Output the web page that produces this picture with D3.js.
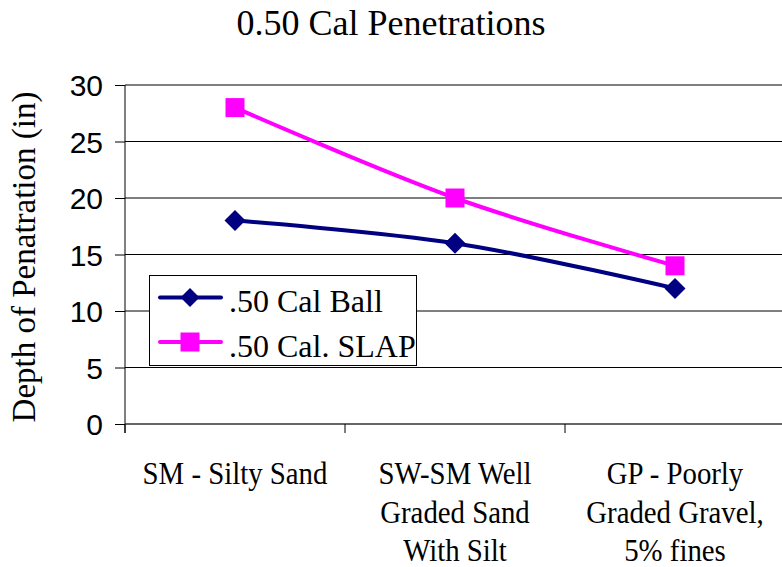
<!DOCTYPE html>
<html>
<head>
<meta charset="utf-8">
<script src="https://cdn.jsdelivr.net/npm/d3@7"></script>
<style>
  html, body { margin: 0; padding: 0; background: #fff; }
  svg { display: block; }
  .serif { font-family: "Liberation Serif", "Times New Roman", Times, "DejaVu Serif", serif; }
  .sans { font-family: "Liberation Sans", Arial, Helvetica, sans-serif; }
</style>
</head>
<body>
<svg id="chart" width="782" height="567"></svg>
<script>
const categories = [
  ["SM - Silty Sand"],
  ["SW-SM Well", "Graded Sand", "With Silt"],
  ["GP - Poorly", "Graded Gravel,", "5% fines"]
];
const categoryKeys = ["SM", "SW-SM", "GP"];
const ballValues = [18, 16, 12];
const slapValues = [28, 20, 14];
const seriesNames = [".50 Cal Ball", ".50 Cal. SLAP"];
const yTicks = [0, 5, 10, 15, 20, 25, 30];
const titleText = "0.50 Cal Penetrations";
const yTitle = "Depth of Penatration (in)";

const navy = "#000080", magenta = "#FF00FF";

const svg = d3.select("#chart");
const L = 125, R = 785, T = 85, B = 424;

const x = d3.scalePoint().domain(categoryKeys).range([L, R]).padding(0.5);
const y = d3.scaleLinear().domain([0, 30]).range([B, T]);

// gridlines
svg.append("g").selectAll("line").data(yTicks.filter(d => d > 0)).join("line")
  .attr("x1", L).attr("x2", R)
  .attr("y1", d => y(d)).attr("y2", d => y(d))
  .attr("stroke", "#000").attr("stroke-width", 1);

// y axis
const yAxis = svg.append("g").attr("transform", `translate(${L},0)`)
  .call(d3.axisLeft(y).tickValues(yTicks).tickSize(10).tickPadding(12));
yAxis.attr("font-family", null).attr("font-size", null);
yAxis.select(".domain").remove();
yAxis.selectAll(".tick line").attr("stroke", "#000");
yAxis.selectAll(".tick text")
  .attr("class", "sans").style("font-size", "30px").attr("fill", "#000")
  .attr("dy", "0.36em");
svg.append("line").attr("x1", L).attr("x2", L).attr("y1", T).attr("y2", B + 9)
  .attr("stroke", "#000").attr("stroke-width", 1);

// x axis
svg.append("line").attr("x1", L).attr("x2", R).attr("y1", B).attr("y2", B)
  .attr("stroke", "#333").attr("stroke-width", 1.5);
const step = x.step();
const bounds = categoryKeys.map(k => x(k) - step / 2).concat([x(categoryKeys[2]) + step / 2]);
svg.append("g").selectAll("line").data(bounds).join("line")
  .attr("x1", d => d).attr("x2", d => d)
  .attr("y1", B).attr("y2", B + 9)
  .attr("stroke", "#000");

// x labels
const baselines = [484, 523, 561];
categoryKeys.forEach((k, i) => {
  const g = svg.append("g").attr("transform", `translate(${x(k)},0) scale(0.9,1)`);
  categories[i].forEach((line, j) => {
    g.append("text").attr("x", 0).attr("y", baselines[j])
      .attr("text-anchor", "middle")
      .attr("class", "serif").style("font-size", "32px").attr("fill", "#000")
      .text(line);
  });
});

// title
svg.append("text").attr("x", 391).attr("y", 35).attr("text-anchor", "middle")
  .attr("class", "serif").style("font-size", "36px").attr("fill", "#000")
  .text(titleText);

// y title
svg.append("text").attr("transform", "translate(35,257) rotate(-90)")
  .attr("text-anchor", "middle")
  .attr("class", "serif").style("font-size", "33px").attr("fill", "#000")
  .text(yTitle);

// lines
const line = d3.line().x((d, i) => x(categoryKeys[i])).y(d => y(d)).curve(d3.curveCatmullRom);
svg.append("path").datum(ballValues).attr("d", line)
  .attr("fill", "none").attr("stroke", navy).attr("stroke-width", 4);
svg.append("path").datum(slapValues).attr("d", line)
  .attr("fill", "none").attr("stroke", magenta).attr("stroke-width", 4);

const diamond = (cx, cy, r) => `M${cx},${cy - r}L${cx + r},${cy}L${cx},${cy + r}L${cx - r},${cy}Z`;
svg.append("g").selectAll("path").data(ballValues).join("path")
  .attr("d", (d, i) => diamond(x(categoryKeys[i]), y(d), 10.5))
  .attr("fill", navy);
svg.append("g").selectAll("rect").data(slapValues).join("rect")
  .attr("x", (d, i) => x(categoryKeys[i]) - 9.5).attr("y", d => y(d) - 9.5)
  .attr("width", 19).attr("height", 19).attr("fill", magenta);

// legend
const lg = svg.append("g");
lg.append("rect").attr("x", 149.5).attr("y", 275.5).attr("width", 267).attr("height", 90)
  .attr("fill", "#fff").attr("stroke", "#000").attr("stroke-width", 1);
const rows = [
  { name: seriesNames[0], color: navy, ly: 297.5, ty: 311.5, marker: "diamond" },
  { name: seriesNames[1], color: magenta, ly: 342, ty: 357, marker: "square" }
];
rows.forEach(r => {
  lg.append("line").attr("x1", 160).attr("x2", 221).attr("y1", r.ly).attr("y2", r.ly)
    .attr("stroke", r.color).attr("stroke-width", 4).attr("stroke-linecap", "round");
  if (r.marker === "diamond") {
    lg.append("path").attr("d", diamond(190, r.ly, 9.5)).attr("fill", r.color);
  } else {
    lg.append("rect").attr("x", 180.5).attr("y", r.ly - 9.5).attr("width", 19).attr("height", 19).attr("fill", r.color);
  }
  lg.append("text").attr("x", 229).attr("y", r.ty)
    .attr("class", "serif").style("font-size", "32px").attr("fill", "#000")
    .text(r.name);
});
</script>
</body>
</html>
